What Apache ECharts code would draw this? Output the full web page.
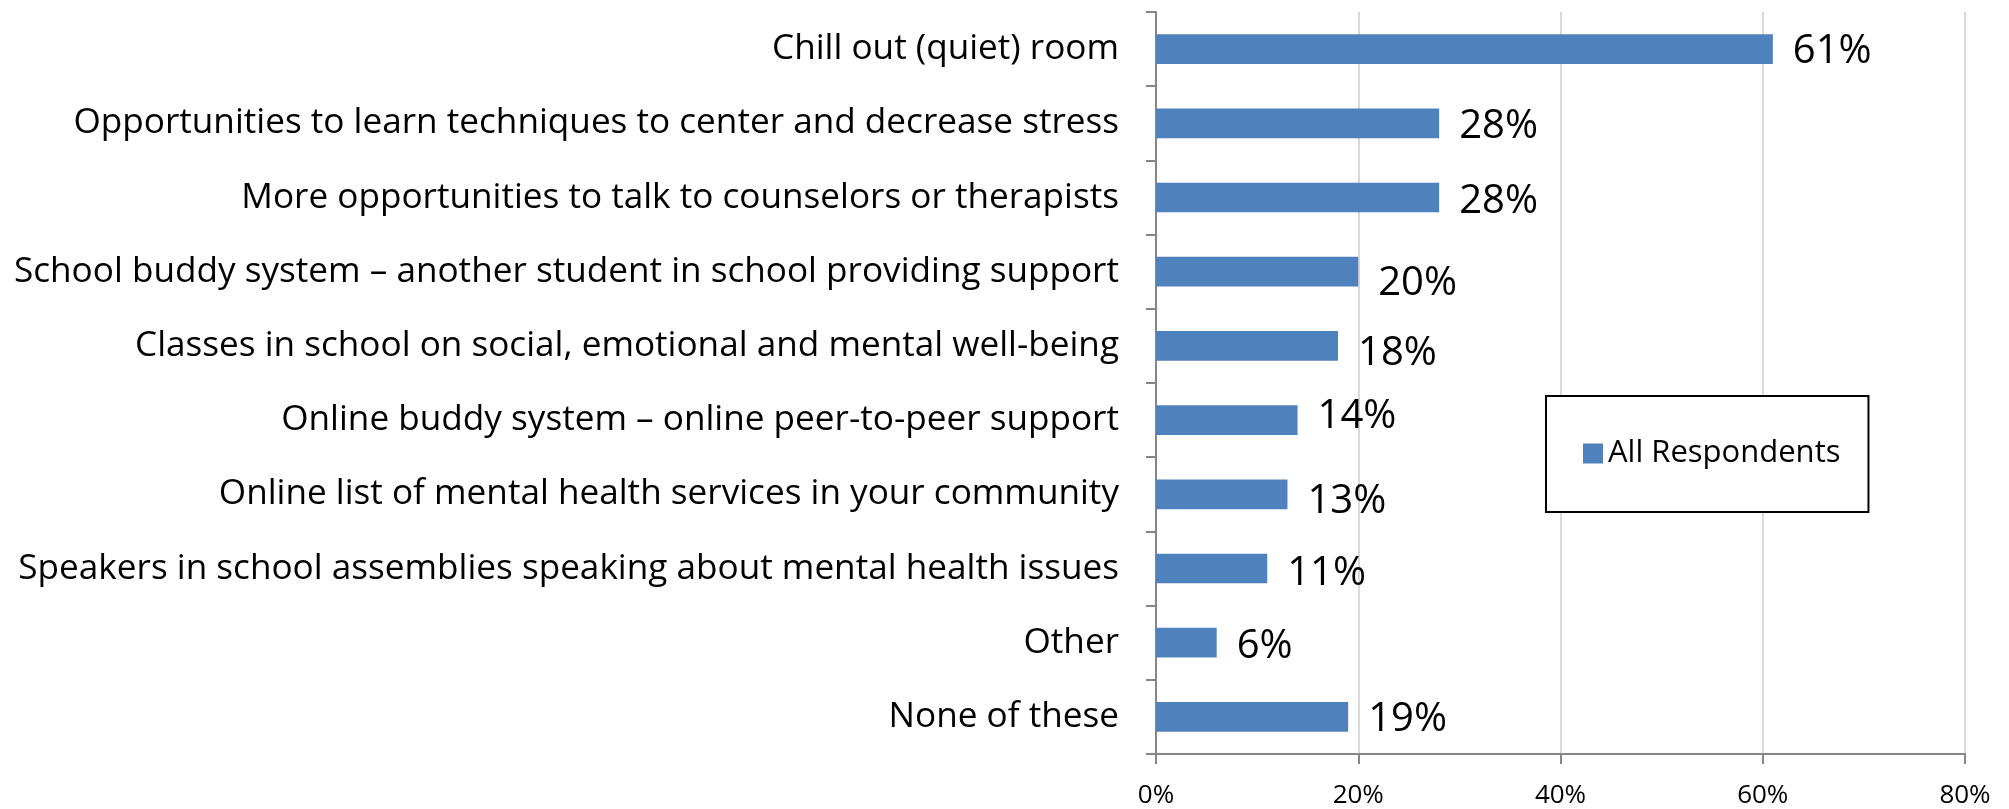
<!DOCTYPE html>
<html>
<head>
<meta charset="utf-8">
<title>Support options</title>
<script src="https://cdn.jsdelivr.net/npm/echarts@6/dist/echarts.min.js"></script>
<style>
  html, body { margin: 0; padding: 0; background: #ffffff; }
  #chart { width: 2009px; height: 809px; }
</style>
</head>
<body>
<div id="chart"></div>
<script>
// Support options, share of all respondents (%)
const categories = [
  'Chill out (quiet) room',
  'Opportunities to learn techniques to center and decrease stress',
  'More opportunities to talk to counselors or therapists',
  'School buddy system \u2013 another student in school providing support',
  'Classes in school on social, emotional and mental well-being',
  'Online buddy system \u2013 online peer-to-peer support',
  'Online list of mental health services in your community',
  'Speakers in school assemblies speaking about mental health issues',
  'Other',
  'None of these'
];
const allRespondents = [61, 28, 28, 20, 18, 14, 13, 11, 6, 19];
const seriesName = 'All Respondents';
const axisTicks = [0, 20, 40, 60, 80];

// small vertical nudges (px) applied to individual value labels
const labelNudgeY = [1, 1, 2, 10, 6, -5, 5, 3, 2, 1];
const LABEL_BASE_SHIFT = 2;

const FONT = 'Open Sans';
const AXIS_GREY = '#868686';

const chart = echarts.init(document.getElementById('chart'), null, { renderer: 'canvas' });

chart.setOption({
  backgroundColor: '#ffffff',
  animation: false,
  grid: { left: 1156, right: 44, top: 12, bottom: 53, containLabel: false },
  legend: {
    data: [seriesName],
    left: 1546,
    top: 396,
    orient: 'vertical',
    padding: [42, 28, 43, 37],
    borderColor: '#000000',
    borderWidth: 2,
    backgroundColor: '#ffffff',
    itemWidth: 20,
    itemHeight: 20,
    icon: 'rect',
    textStyle: { fontFamily: FONT, fontSize: 31, color: '#000000' }
  },
  xAxis: {
    type: 'value',
    min: axisTicks[0],
    max: axisTicks[axisTicks.length - 1],
    interval: axisTicks[1] - axisTicks[0],
    axisLine: { show: true, lineStyle: { color: AXIS_GREY, width: 2 } },
    axisTick: { show: true, length: 10, lineStyle: { color: AXIS_GREY, width: 2 } },
    splitLine: { show: true, lineStyle: { color: '#d9d9d9', width: 2 } },
    axisLabel: {
      formatter: '{value}%',
      fontFamily: FONT,
      fontSize: 26,
      color: '#000000',
      margin: 29
    }
  },
  yAxis: {
    type: 'category',
    inverse: true,
    data: categories,
    axisLine: { show: true, lineStyle: { color: AXIS_GREY, width: 2 } },
    axisTick: { show: true, length: 10, lineStyle: { color: AXIS_GREY, width: 2 } },
    axisLabel: {
      fontFamily: FONT,
      fontSize: 35.15,
      color: '#000000',
      margin: 37
    },
    splitLine: { show: false }
  },
  series: [{
    name: seriesName,
    type: 'bar',
    barWidth: '40%',
    itemStyle: { color: '#4f81bd' },
    data: allRespondents.map((v, i) => ({
      value: v,
      label: { offset: [0, labelNudgeY[i] + LABEL_BASE_SHIFT] }
    })),
    label: {
      show: true,
      position: 'right',
      distance: 20,
      formatter: '{c}%',
      fontFamily: FONT,
      fontSize: 40,
      color: '#000000'
    }
  }]
});
</script>
</body>
</html>
